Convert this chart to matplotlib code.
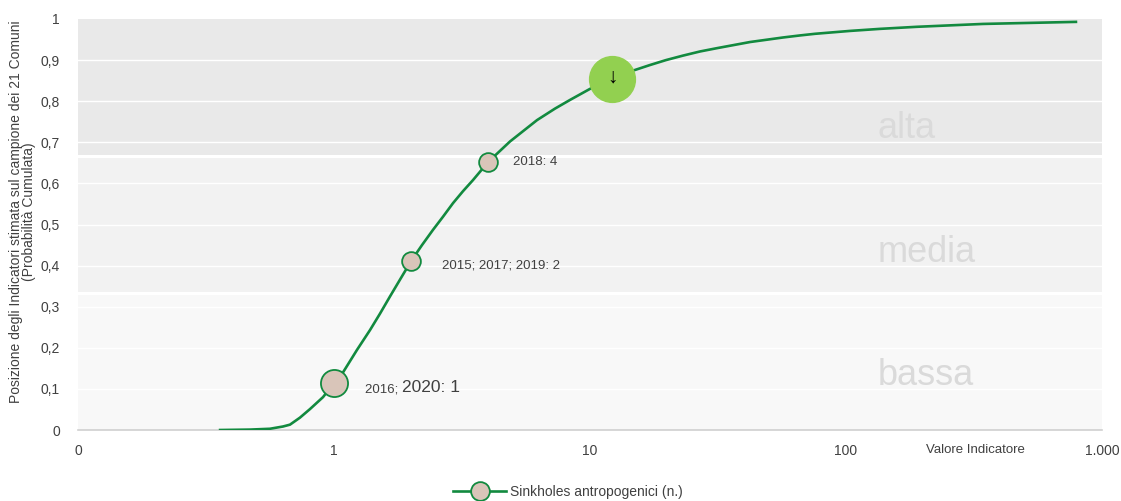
import matplotlib
matplotlib.use("Agg")
import matplotlib.pyplot as plt
from matplotlib.ticker import FixedLocator, NullLocator

FONT = ["Liberation Sans", "DejaVu Sans"]
plt.rcParams["font.family"] = FONT

# Cumulative probability curve (indicator value -> position among the 21 municipalities)
curve_x = [0.359, 0.470, 0.562, 0.632, 0.673, 0.736, 0.806, 0.906, 1.0, 1.084, 1.230,
           1.382, 1.512, 1.655, 1.811, 2.0, 2.207, 2.436, 2.666, 2.917, 3.19, 3.49, 4.0,
           4.87, 6.21, 7.30, 8.35, 10.0, 12.2, 14.33, 17.15, 19.8, 23.1, 26.9, 31.3, 42.2,
           56.7, 66.1, 75.7, 103.6, 135.8, 189, 343, 791]
curve_y = [0.0, 0.001, 0.003, 0.0085, 0.013, 0.030, 0.051, 0.080, 0.114, 0.140, 0.195,
           0.243, 0.283, 0.325, 0.366, 0.411, 0.450, 0.487, 0.519, 0.552, 0.581, 0.608, 0.652,
           0.702, 0.754, 0.782, 0.803, 0.830, 0.854, 0.872, 0.888, 0.900, 0.911, 0.921, 0.929,
           0.944, 0.955, 0.960, 0.964, 0.971, 0.976, 0.981, 0.988, 0.993]

# Observed yearly values
point_x = [1, 2, 4]
point_y = [0.114, 0.411, 0.652]
point_size = [19.5, 13.5, 13.5]

# Latest value
current_x = 12.2
current_y = 0.854

# Classes of the cumulative probability
band_limits = [0.0, 1 / 3, 2 / 3, 1.0]
band_names = ["bassa", "media", "alta"]
band_colors = ["#f8f8f8", "#f2f2f2", "#e9e9e9"]
band_label_y = [0.109, 0.409, 0.710]

x_ticks = [0.1, 1, 10, 100, 1000]
x_tick_labels = ["0", "1", "10", "100", "1.000"]
y_ticks = [i / 10 for i in range(11)]
y_tick_labels = ["0", "0,1", "0,2", "0,3", "0,4", "0,5", "0,6", "0,7", "0,8", "0,9", "1"]

LINE = "#128a3f"
FILL = "#d9c5b9"
TXT = "#404040"

fig = plt.figure(figsize=(11.21, 5.01), dpi=100)
ax = fig.add_axes([78 / 1121, 71 / 501, 1024 / 1121, 411 / 501])
ax.set_xscale("log")
ax.set_xlim(0.1, 1000)
ax.set_ylim(0, 1)

# background bands with white separators
for (lo, hi), col in zip(zip(band_limits[:-1], band_limits[1:]), band_colors):
    ax.axhspan(lo, hi, color=col, lw=0, zorder=0)
for yl in band_limits[1:-1]:
    ax.axhline(yl, color="white", lw=2.2, zorder=0.6)
for yt in y_ticks[1:-1]:
    ax.axhline(yt, color="white", lw=1.0, zorder=0.5)

for name, yb in zip(band_names, band_label_y):
    ax.text(0.781, yb, name, transform=ax.get_yaxis_transform(), ha="left", va="baseline",
            fontsize=26, color="#dadada", zorder=1)

# curve
ax.plot(curve_x, curve_y, color=LINE, lw=1.9, zorder=3, solid_joinstyle="round")

for x, y, s in zip(point_x, point_y, point_size):
    ax.plot([x], [y], marker="o", ms=s, mfc=FILL, mec=LINE, mew=1.3, ls="none", zorder=4)

ax.plot([current_x], [current_y], marker="o", ms=33, mfc="#92d050", mec="#92d050",
        ls="none", zorder=5)
ax.text(current_x, current_y + 0.004, "\u2193", ha="center", va="center", fontsize=15,
        color="black", zorder=6)

# value labels
ax.annotate("2018: 4", (4, 0.652), xytext=(25, 0), textcoords="offset pixels",
            ha="left", va="center", fontsize=9.5, color=TXT)
ax.annotate("2015; 2017; 2019: 2", (2, 0.411), xytext=(31, -4), textcoords="offset pixels",
            ha="left", va="center", fontsize=9.5, color=TXT)
t1 = ax.annotate("2016; ", (1, 0.114), xytext=(31, -9), textcoords="offset pixels",
                 ha="left", va="baseline", fontsize=9.5, color=TXT)
fig.canvas.draw()
bb = t1.get_window_extent()
ax.annotate("2020: 1", (1, 0.114), xytext=(31 + bb.width, -9), textcoords="offset pixels",
            ha="left", va="baseline", fontsize=12.5, color=TXT)

# axes styling
for side in ["top", "right", "left"]:
    ax.spines[side].set_visible(False)
ax.spines["bottom"].set_color("#d0d0d0")
ax.spines["bottom"].set_linewidth(1.2)

ax.xaxis.set_major_locator(FixedLocator(x_ticks))
ax.xaxis.set_minor_locator(NullLocator())
ax.set_xticklabels(x_tick_labels)
ax.set_yticks(y_ticks)
ax.set_yticklabels(y_tick_labels)
ax.tick_params(axis="both", length=0, labelsize=10, labelcolor=TXT)
ax.tick_params(axis="x", pad=10)
ax.tick_params(axis="y", pad=13)

ax.text(0.876, -0.048, "Valore Indicatore", transform=ax.transAxes, ha="center", va="center",
        fontsize=9.5, color=TXT)

ax.set_ylabel("Posizione degli Indicatori stimata sul campione dei 21 Comuni\n(Probabilità Cumulata)",
              fontsize=10, color=TXT, linespacing=0.95)
ax.yaxis.set_label_coords(-0.041, 0.53)

leg_handle = plt.Line2D([], [], color=LINE, lw=1.9, marker="o", ms=13.5, mfc=FILL, mec=LINE,
                        mew=1.3)
fig.legend([leg_handle], ["Sinkholes antropogenici (n.)"], loc="center",
           bbox_to_anchor=(568 / 1121, 1 - 492 / 501), frameon=False, fontsize=10,
           handlelength=3.8, handletextpad=0.3, labelcolor=TXT)

fig.savefig("out.png", dpi=100)
